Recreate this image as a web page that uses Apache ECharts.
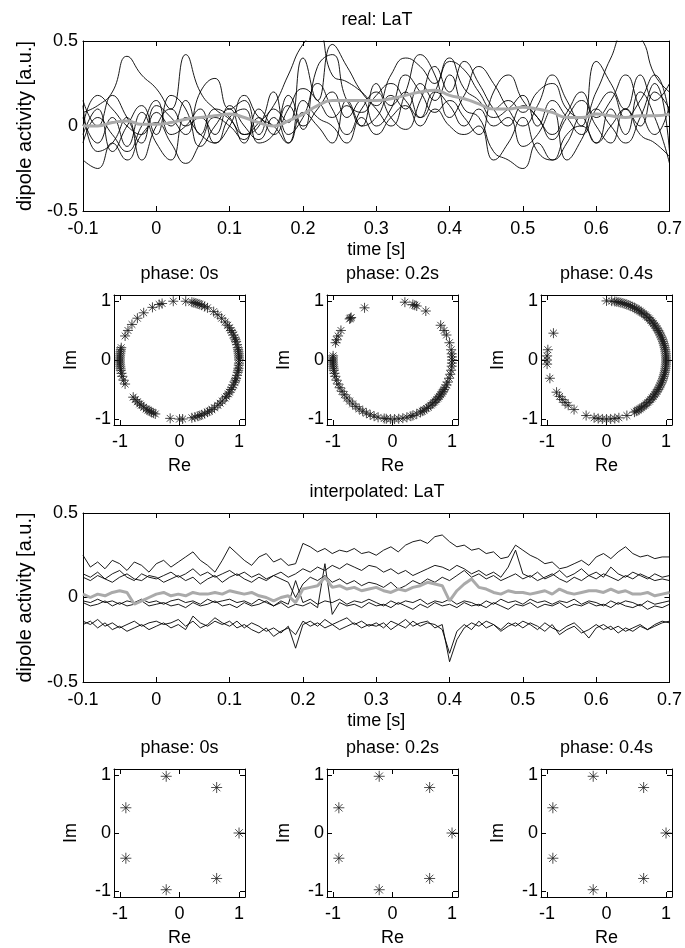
<!DOCTYPE html>
<html><head><meta charset="utf-8">
<script src="https://cdn.jsdelivr.net/npm/echarts@6/dist/echarts.min.js"></script>
<style>html,body{margin:0;padding:0;background:#fff}#c{width:685px;height:948px}</style>
</head><body><div id="c"></div>
<script>
// ---------- data: real LaT (single trials + grey mean) ----------
const T_REAL = [-0.10,-0.08,-0.06,-0.04,-0.02,0.00,0.02,0.04,0.06,0.08,
  0.10,0.12,0.14,0.16,0.18,0.20,0.22,0.24,0.26,0.28,
  0.30,0.32,0.34,0.36,0.38,0.40,0.42,0.44,0.46,0.48,
  0.50,0.52,0.54,0.56,0.58,0.60,0.62,0.64,0.66,0.68,0.70];
const REAL_A = [0.08,0.12,0.20,0.41,0.30,0.22,0.10,0.42,0.20,0.10,
  0.04,-0.05,0.02,0.12,0.30,0.48,0.55,0.30,0.26,0.20,
  0.12,0.30,0.40,0.35,0.25,0.38,0.33,0.20,0.10,0.15,
  0.08,0.20,0.25,0.10,0.05,0.20,0.40,0.55,0.52,0.30,0.20];
const REAL_B = [-0.20,-0.25,-0.10,-0.20,-0.05,0.02,-0.10,-0.22,-0.10,0.05,
  0.00,-0.08,0.05,-0.05,0.10,0.22,0.15,0.05,0.12,0.00,
  0.05,0.18,0.10,0.25,0.15,0.30,0.10,0.05,-0.15,-0.20,
  -0.25,-0.10,-0.20,-0.05,0.00,-0.10,0.10,-0.05,0.20,0.05,-0.22];
const REAL_C = [0.15,0.00,0.18,0.05,-0.10,0.12,0.05,-0.05,0.20,0.28,
  0.10,0.15,-0.05,0.10,0.02,0.40,0.15,0.48,0.35,0.20,
  0.10,0.00,0.20,0.42,0.30,0.05,0.18,0.35,0.25,0.10,
  0.00,0.12,0.30,0.15,0.00,0.38,0.25,0.10,0.30,0.15,0.25];
const REAL_D = [-0.05,0.10,-0.15,0.00,0.12,-0.05,0.18,0.10,-0.12,0.00,
  0.10,-0.05,0.00,0.20,-0.05,0.05,0.25,0.10,-0.05,0.10,
  0.20,0.05,-0.02,0.15,0.35,0.20,0.38,0.25,0.10,0.00,
  0.12,0.05,-0.08,0.05,0.15,0.00,-0.10,0.10,0.00,0.20,0.10];
const REAL_E = [0.05,-0.10,0.05,-0.12,0.08,-0.10,-0.20,0.05,-0.05,-0.10,
  0.05,0.10,-0.10,-0.05,0.12,0.00,0.10,0.20,0.05,0.15,
  0.00,0.10,0.30,0.20,0.08,0.15,0.05,-0.05,0.20,0.30,
  0.15,0.05,-0.05,0.08,0.20,0.05,0.15,0.30,0.10,-0.05,0.12];
const REAL_F = [-0.10,0.05,-0.05,-0.15,0.00,0.15,-0.05,0.00,0.10,-0.10,
  0.00,0.18,0.05,0.00,-0.10,0.08,0.00,-0.10,0.15,0.00,
  0.25,0.12,0.20,0.05,0.20,0.12,0.00,0.10,0.00,0.05,
  -0.12,-0.05,0.10,-0.20,-0.08,0.10,0.00,-0.10,0.05,0.25,-0.15];
const REAL_G = [0.00,0.18,0.10,0.00,-0.05,0.08,0.00,0.15,-0.05,0.10,
  0.05,-0.10,0.10,0.00,0.18,-0.02,0.35,0.42,0.15,0.08,
  0.18,0.25,0.15,0.05,0.20,0.40,0.22,0.15,0.05,0.10,
  0.18,0.00,0.15,0.05,-0.05,0.10,0.20,0.05,0.15,0.30,0.05];
const REAL_H = [0.12,-0.15,-0.10,0.05,-0.20,0.00,0.10,0.00,0.05,-0.05,
  0.12,0.00,-0.08,0.05,-0.10,0.15,0.05,0.00,-0.10,0.05,
  -0.05,0.05,0.12,0.00,0.10,0.00,-0.05,0.00,-0.20,-0.10,
  0.05,-0.15,-0.20,-0.10,0.05,-0.10,0.00,0.10,-0.05,-0.10,-0.18];
const REAL_MEAN = [0.00,0.00,0.02,0.03,0.01,0.01,0.02,0.04,0.05,0.06,
  0.07,0.05,0.02,0.00,0.03,0.07,0.12,0.15,0.15,0.15,
  0.15,0.16,0.18,0.20,0.21,0.18,0.16,0.13,0.10,0.10,
  0.11,0.10,0.08,0.05,0.05,0.07,0.06,0.05,0.06,0.06,0.07];

// ---------- data: interpolated LaT ----------
const T_INTERP = [-0.10,-0.09,-0.08,-0.07,-0.06,-0.05,-0.04,-0.03,-0.02,-0.01,
  0.00,0.01,0.02,0.03,0.04,0.05,0.06,0.07,0.08,0.09,
  0.10,0.11,0.12,0.13,0.14,0.15,0.16,0.17,0.18,0.19,
  0.20,0.21,0.22,0.23,0.24,0.25,0.26,0.27,0.28,0.29,
  0.30,0.31,0.32,0.33,0.34,0.35,0.36,0.37,0.38,0.39,
  0.40,0.41,0.42,0.43,0.44,0.45,0.46,0.47,0.48,0.49,
  0.50,0.51,0.52,0.53,0.54,0.55,0.56,0.57,0.58,0.59,
  0.60,0.61,0.62,0.63,0.64,0.65,0.66,0.67,0.68,0.69,0.70];
const INTERP_1 = [0.25,0.18,0.21,0.17,0.22,0.20,0.16,0.21,0.19,0.15,
  0.20,0.22,0.18,0.21,0.24,0.27,0.22,0.19,0.15,0.22,
  0.30,0.26,0.22,0.19,0.24,0.26,0.21,0.23,0.19,0.20,
  0.32,0.30,0.27,0.29,0.26,0.28,0.27,0.29,0.26,0.27,
  0.25,0.28,0.30,0.27,0.31,0.33,0.34,0.32,0.36,0.37,
  0.33,0.30,0.31,0.28,0.29,0.26,0.27,0.23,0.24,0.31,
  0.28,0.25,0.23,0.20,0.21,0.17,0.18,0.20,0.22,0.19,
  0.24,0.26,0.23,0.27,0.30,0.26,0.24,0.25,0.23,0.24,0.24];
const INTERP_2 = [0.14,0.12,0.15,0.11,0.14,0.16,0.12,0.10,0.14,0.12,
  0.11,0.13,0.15,0.12,0.14,0.17,0.13,0.15,0.12,0.14,
  0.16,0.13,0.15,0.12,0.14,0.11,0.13,0.15,0.12,0.14,
  0.17,0.15,0.18,0.16,0.19,0.17,0.20,0.18,0.16,0.19,
  0.18,0.15,0.17,0.14,0.16,0.13,0.15,0.17,0.19,0.18,
  0.16,0.19,0.17,0.14,0.16,0.13,0.15,0.12,0.18,0.28,
  0.14,0.12,0.15,0.11,0.13,0.16,0.12,0.14,0.17,0.13,
  0.15,0.12,0.18,0.14,0.12,0.15,0.13,0.11,0.14,0.12,0.13];
const INTERP_3 = [0.12,0.10,0.13,0.11,0.09,0.12,0.14,0.11,0.10,0.13,
  0.12,0.09,0.11,0.13,0.10,0.12,0.08,0.11,0.13,0.09,
  0.12,0.14,0.11,0.09,0.12,0.10,0.13,0.11,0.09,0.00,
  0.08,0.12,0.10,0.13,0.09,0.11,0.08,0.10,0.07,0.09,
  0.08,0.06,0.09,0.05,0.07,0.10,0.08,0.11,0.09,0.12,
  0.10,0.13,0.16,0.12,0.14,0.11,0.13,0.10,0.12,0.14,
  0.11,0.13,0.10,0.12,0.14,0.11,0.09,0.12,0.10,0.13,
  0.11,0.14,0.12,0.10,0.13,0.11,0.14,0.12,0.10,0.11,0.10];
const INTERP_4 = [-0.02,-0.03,-0.01,-0.03,-0.02,-0.04,-0.02,-0.03,-0.01,-0.03,
  -0.02,-0.04,-0.02,-0.01,-0.03,-0.02,-0.04,-0.01,-0.03,-0.02,
  -0.01,-0.03,-0.02,-0.04,-0.01,-0.03,-0.05,-0.02,-0.04,0.10,
  -0.03,-0.01,-0.04,-0.02,-0.03,-0.01,-0.04,-0.02,-0.03,-0.01,
  -0.03,-0.05,-0.02,-0.04,-0.02,-0.03,-0.01,-0.04,-0.02,-0.03,
  -0.01,-0.04,-0.02,-0.03,-0.05,-0.02,-0.04,-0.01,-0.03,-0.02,
  -0.04,-0.01,-0.03,-0.02,-0.04,-0.02,-0.03,-0.01,-0.04,-0.02,
  -0.03,-0.05,-0.02,-0.04,-0.02,-0.03,-0.05,-0.02,-0.04,-0.03,-0.02];
const INTERP_5 = [-0.03,-0.05,-0.04,-0.02,-0.05,-0.03,-0.05,-0.04,-0.02,-0.05,
  -0.04,-0.03,-0.05,-0.04,-0.06,-0.03,-0.05,-0.04,-0.02,-0.05,
  -0.04,-0.06,-0.03,-0.05,-0.04,-0.02,-0.05,-0.03,-0.06,-0.04,
  -0.05,-0.03,-0.06,0.20,-0.10,-0.03,-0.05,-0.04,-0.06,-0.03,
  -0.05,-0.04,-0.06,-0.03,-0.05,-0.07,-0.04,-0.06,-0.03,-0.05,
  -0.04,-0.06,-0.03,-0.05,-0.04,-0.06,-0.03,-0.05,-0.07,-0.04,
  -0.05,-0.03,-0.06,-0.04,-0.05,-0.03,-0.06,-0.04,-0.05,-0.03,
  -0.05,-0.04,-0.06,-0.03,-0.05,-0.06,-0.04,-0.07,-0.05,-0.06,-0.04];
const INTERP_6 = [-0.14,-0.16,-0.13,-0.17,-0.15,-0.18,-0.16,-0.14,-0.17,-0.15,
  -0.14,-0.16,-0.15,-0.13,-0.17,-0.14,-0.18,-0.16,-0.12,-0.15,
  -0.17,-0.14,-0.18,-0.15,-0.17,-0.20,-0.18,-0.21,-0.17,-0.30,
  -0.16,-0.14,-0.17,-0.13,-0.16,-0.14,-0.12,-0.16,-0.14,-0.17,
  -0.15,-0.18,-0.14,-0.16,-0.13,-0.17,-0.15,-0.14,-0.18,-0.16,
  -0.38,-0.25,-0.18,-0.15,-0.17,-0.14,-0.16,-0.19,-0.15,-0.17,
  -0.14,-0.16,-0.19,-0.15,-0.18,-0.20,-0.17,-0.15,-0.19,-0.24,
  -0.18,-0.16,-0.19,-0.17,-0.20,-0.18,-0.16,-0.19,-0.17,-0.15,-0.14];
const INTERP_7 = [-0.16,-0.14,-0.18,-0.15,-0.19,-0.17,-0.20,-0.18,-0.16,-0.19,
  -0.17,-0.15,-0.18,-0.16,-0.19,-0.11,-0.15,-0.17,-0.14,-0.16,
  -0.14,-0.18,-0.16,-0.19,-0.21,-0.18,-0.23,-0.20,-0.18,-0.22,
  -0.14,-0.17,-0.15,-0.18,-0.16,-0.19,-0.17,-0.15,-0.18,-0.16,
  -0.17,-0.15,-0.19,-0.16,-0.18,-0.14,-0.17,-0.15,-0.16,-0.19,
  -0.33,-0.20,-0.16,-0.19,-0.14,-0.18,-0.16,-0.20,-0.17,-0.15,
  -0.18,-0.15,-0.17,-0.20,-0.16,-0.22,-0.19,-0.17,-0.21,-0.19,
  -0.16,-0.19,-0.17,-0.21,-0.18,-0.20,-0.17,-0.19,-0.16,-0.14,-0.15];
const INTERP_MEAN = [0.02,0.00,0.02,0.01,0.03,0.04,0.03,-0.04,-0.02,0.00,
  0.02,0.03,0.01,0.02,0.01,0.03,0.02,0.02,0.03,0.02,
  0.04,0.03,0.02,0.03,0.01,0.00,-0.02,0.00,0.01,-0.03,
  0.05,0.06,0.07,0.12,0.06,0.07,0.05,0.06,0.04,0.05,
  0.06,0.04,0.03,0.05,0.04,0.06,0.07,0.09,0.08,0.07,
  -0.02,0.04,0.08,0.11,0.06,0.05,0.03,0.02,0.04,0.03,
  0.03,0.02,0.03,0.04,0.02,0.05,0.03,0.02,0.03,0.04,
  0.04,0.03,0.05,0.03,0.04,0.02,0.02,0.03,0.01,0.02,0.03];

// ---------- data: phases (degrees) on the unit circle ----------
const PHASE_REAL_0S = [-38,-35,-33,-30,-28,-25,-22,-20,-18,-15,-12,-10,-8,-5,-3,0,2,4,6,8,10,12,15,18,20,22,25,28,30,33,36,40,45,50,55,
  62,65,68,70,72,74,76,78,84,96,107,110,117,127,135,143,150,156,
  168,170,172,174,176,178,180,182,184,186,188,190,193,196,200,204,
  219,222,225,228,230,233,236,238,240,242,244,246,
  261,270,273,282,285,288,290,292,295,298,300,303,306,310,313,316,320];
const PHASE_REAL_02S = [-60,-58,-55,-53,-50,-48,-46,-44,-42,-40,-38,-36,-34,-32,-30,-28,-25,-22,-18,-14,-10,-6,-3,0,3,6,10,17,25,30,36,
  56,66,68,70,78,118,134,135,136,150,156,160,163,
  176,178,180,182,184,186,188,190,193,196,200,204,208,212,216,220,224,228,232,236,240,244,248,
  252,256,262,264,268,272,276,280,284,288,290,294,298];
const PHASE_REAL_04S = [-62,-60,-58,-56,-54,-52,-50,-48,-46,-44,-42,-40,-38,-36,-34,-32,-30,-28,-26,-24,-22,-20,-18,-16,-14,-12,-10,-8,-6,-4,-2,
  0,2,4,6,8,10,12,14,16,18,20,22,24,26,28,30,32,34,36,38,40,42,44,46,48,50,52,54,56,58,60,62,64,66,68,70,72,74,76,78,80,82,85,90,
  153,170,176,180,184,198,213,218,222,226,230,237,250,258,262,266,270,274,278,282,290];
const PHASE_INTERP_0S = [0,51.4,102.9,154.3,205.7,257.1,308.6];
const PHASE_INTERP_02S = [0,51.4,102.9,154.3,205.7,257.1,308.6];
const PHASE_INTERP_04S = [0,51.4,102.9,154.3,205.7,257.1,308.6];

const TITLES = ['real: LaT','phase: 0s','phase: 0.2s','phase: 0.4s','interpolated: LaT','phase: 0s','phase: 0.2s','phase: 0.4s'];

// ---------- layout / styling ----------
const FONT = '"Liberation Sans", Arial, Helvetica, sans-serif';
const FS = 18;
const GRIDS = [
  {left:83, top:41, width:588, height:170},
  {left:114, top:295, width:131, height:130},
  {left:327, top:295, width:131, height:130},
  {left:541, top:295, width:131, height:130},
  {left:83, top:513, width:588, height:169},
  {left:114, top:769, width:131, height:129},
  {left:327, top:769, width:131, height:129},
  {left:541, top:769, width:131, height:129}
];
const txt = {color:'#000', fontSize:FS, fontFamily:FONT};
const lineSt = {show:true, onZero:false, lineStyle:{color:'#000', width:1}};
const tickSt = (cv) => Object.assign({show:true, inside:true, length:5, lineStyle:{color:'#000', width:1}}, cv ? {customValues:cv} : {});
const xAxes = [], yAxes = [];
const TICKS_PH = [-1, 0, 1];

function addLineAxes(g) {
  const base = {gridIndex:g, type:'value', min:-0.1, max:0.7, interval:0.1, splitLine:{show:false}, axisLine:lineSt};
  xAxes.push(Object.assign({}, base, {position:'bottom', axisTick:tickSt(),
    axisLabel:Object.assign({margin:9, showMinLabel:true, showMaxLabel:true}, txt),
    name:'time [s]', nameLocation:'middle', nameGap:30, nameTextStyle:txt}));
  xAxes.push(Object.assign({}, base, {position:'top', axisTick:tickSt(), axisLabel:{show:false}}));
  const yb = {gridIndex:g, type:'value', min:-0.5, max:0.5, interval:0.5, splitLine:{show:false}, axisLine:lineSt};
  yAxes.push(Object.assign({}, yb, {position:'left', axisTick:tickSt(),
    axisLabel:Object.assign({margin:5, showMinLabel:true, showMaxLabel:true}, txt),
    name:'dipole activity [a.u.]', nameLocation:'middle', nameGap:48,
    nameTextStyle:Object.assign({}, txt, {fontSize:20})}));
  yAxes.push(Object.assign({}, yb, {position:'right', axisTick:tickSt(), axisLabel:{show:false}}));
}
function addPhaseAxes(g) {
  const base = {gridIndex:g, type:'value', min:-1.1, max:1.1, splitLine:{show:false}, axisLine:lineSt};
  xAxes.push(Object.assign({}, base, {position:'bottom', axisTick:tickSt(TICKS_PH),
    axisLabel:Object.assign({margin:8, customValues:TICKS_PH}, txt),
    name:'Re', nameLocation:'middle', nameGap:32, nameTextStyle:txt}));
  xAxes.push(Object.assign({}, base, {position:'top', axisTick:tickSt(TICKS_PH), axisLabel:{show:false}}));
  yAxes.push(Object.assign({}, base, {position:'left', axisTick:tickSt(TICKS_PH),
    axisLabel:Object.assign({margin:3, customValues:TICKS_PH}, txt),
    name:'Im', nameLocation:'middle', nameGap:34, nameTextStyle:txt}));
  yAxes.push(Object.assign({}, base, {position:'right', axisTick:tickSt(TICKS_PH), axisLabel:{show:false}}));
}
addLineAxes(0); addPhaseAxes(1); addPhaseAxes(2); addPhaseAxes(3);
addLineAxes(4); addPhaseAxes(5); addPhaseAxes(6); addPhaseAxes(7);

const series = [];
function pairs(ts, vs) { return vs.map((v, i) => [ts[i], v]); }
function addTraces(g, ts, list, mean, smooth) {
  list.forEach(vs => series.push({type:'line', xAxisIndex:2*g, yAxisIndex:2*g, data:pairs(ts, vs),
    smooth:smooth, showSymbol:false, silent:true, z:2, lineStyle:{color:'#000', width:0.9}}));
  series.push({type:'line', xAxisIndex:2*g, yAxisIndex:2*g, data:pairs(ts, mean),
    smooth:smooth, showSymbol:false, silent:true, z:3, lineStyle:{color:'#aaaaaa', width:3}});
}
const STAR = 'path://M0,5L10,5M5,0L5,10M1.6,1.6L8.4,8.4M8.4,1.6L1.6,8.4';
function addPhases(g, deg, color, size) {
  series.push({type:'scatter', xAxisIndex:2*g, yAxisIndex:2*g, silent:true,
    data:deg.map(d => [Math.cos(d*Math.PI/180), Math.sin(d*Math.PI/180)]),
    symbol:STAR, symbolSize:size, itemStyle:{color:color, borderColor:color, borderWidth:1}});
}
addTraces(0, T_REAL, [REAL_A,REAL_B,REAL_C,REAL_D,REAL_E,REAL_F,REAL_G,REAL_H], REAL_MEAN, 0.5);
addPhases(1, PHASE_REAL_0S, '#1a1a1a', 10);
addPhases(2, PHASE_REAL_02S, '#1a1a1a', 10);
addPhases(3, PHASE_REAL_04S, '#1a1a1a', 10);
addTraces(4, T_INTERP, [INTERP_1,INTERP_2,INTERP_3,INTERP_4,INTERP_5,INTERP_6,INTERP_7], INTERP_MEAN, false);
addPhases(5, PHASE_INTERP_0S, '#222', 11);
addPhases(6, PHASE_INTERP_02S, '#222', 11);
addPhases(7, PHASE_INTERP_04S, '#222', 11);

const title = TITLES.map((t, i) => ({text:t, left:GRIDS[i].left + GRIDS[i].width/2, top:GRIDS[i].top - 30,
  textAlign:'center', padding:0, textStyle:{color:'#000', fontSize:FS, fontWeight:'normal', fontFamily:FONT}}));

const chart = echarts.init(document.getElementById('c'), null, {renderer:'canvas'});
chart.setOption({backgroundColor:'#fff', animation:false, title:title, grid:GRIDS,
  xAxis:xAxes, yAxis:yAxes, series:series});
</script></body></html>
